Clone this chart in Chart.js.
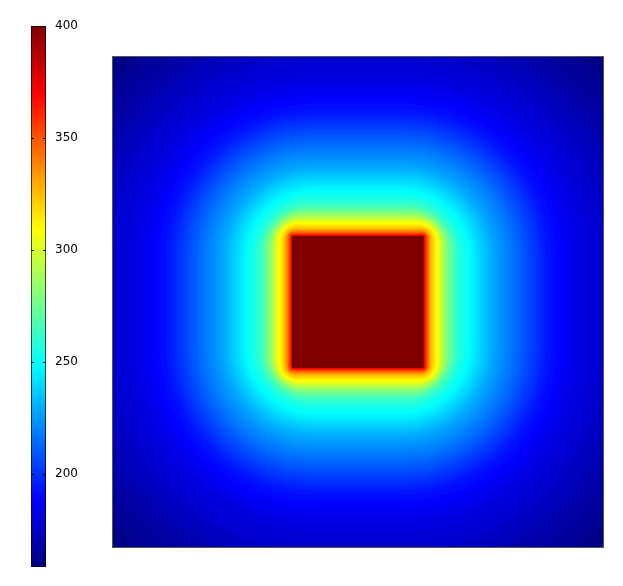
<!DOCTYPE html>
<html><head><meta charset="utf-8">
<script src="https://cdn.jsdelivr.net/npm/chart.js@4/dist/chart.umd.min.js"></script>
<style>
html,body{margin:0;padding:0;background:#fff;}
#wrap{position:relative;width:623px;height:586px;}
#main,#bar{position:absolute;left:0;top:0;}
</style></head><body>
<div id="wrap">
<canvas id="main" width="623" height="586"></canvas>
<canvas id="bar" width="110" height="586"></canvas>
</div>
<script>
// Domain (cm) and heated block
const domainX = [0, 49];
const domainY = [0, 49];
const blockX = [18, 31];
const blockY = [18, 31];
const blockTemperature = 400;
const backgroundTemperature = 160;

// Filled contour levels (temperature), distance of each level set from the block edge (cm),
// and corner radius of each level set (cm)
const contourLevels = [162,164,166,168,170,172,174,176,178,180,182,184,186,188,190,192,194,196,198,200,202,204,206,208,210,212,214,216,218,220,222,224,226,228,230,232,234,236,238,240,242,244,246,248,250,252,254,256,258,260,262,264,268,272,276,280,284,288,292,296,300,304,308,312,316,320,326,332,338,344,350,356,362,368,376,386,396];
const contourOffsets = [24.76,23.67,22.59,21.5,20.7,19.9,19.1,18.3,17.44,16.52,15.6,15.04,14.47,13.91,13.35,12.78,12.35,12.04,11.74,11.43,11.13,10.82,10.52,10.21,9.91,9.6,9.28,8.96,8.65,8.33,8.01,7.69,7.38,7.06,6.78,6.55,6.32,6.09,5.86,5.63,5.4,5.17,4.94,4.71,4.49,4.26,4.03,3.8,3.63,3.45,3.28,3.1,2.93,2.75,2.58,2.4,2.25,2.11,1.97,1.83,1.7,1.57,1.43,1.28,1.13,0.98,0.82,0.71,0.59,0.49,0.41,0.33,0.25,0.18,0.12,0.07,0.02];
const contourCornerRadii = [26.76,25.67,24.59,23.5,22.7,21.9,21.1,20.3,19.44,18.52,17.6,17.04,16.47,15.91,15.35,14.78,14.35,14.04,13.74,13.43,13.13,12.82,12.52,12.21,11.91,11.6,11.28,10.96,10.65,10.33,10.01,9.69,9.38,9.06,8.78,8.55,8.32,8.09,7.86,7.63,7.4,7.17,6.94,6.71,6.49,6.26,6.03,5.7,5.43,5.15,4.88,4.6,4.33,4.05,3.78,3.5,3.25,3.01,2.77,2.53,2.3,2.12,1.93,1.68,1.43,1.23,1.02,0.86,0.7,0.58,0.48,0.38,0.28,0.2,0.13,0.07,0.02];

// Colour bar
const colorMin = 158.5;
const colorMax = 400;
const colorbarTicks = [200, 250, 300, 350, 400];

function clamp01(v){ return Math.max(0, Math.min(1, v)); }
function jet(val){
  const t = clamp01((val - colorMin) / (colorMax - colorMin));
  const r = clamp01(1.5 - Math.abs(4*t - 3));
  const g = clamp01(1.5 - Math.abs(4*t - 2));
  const b = clamp01(1.5 - Math.abs(4*t - 1));
  return `rgb(${Math.round(r*255)},${Math.round(g*255)},${Math.round(b*255)})`;
}

const contourPlugin = {
  id: 'contour',
  beforeDatasetsDraw(chart){
    const {ctx, chartArea: a, scales: {x, y}} = chart;
    ctx.save();
    ctx.beginPath(); ctx.rect(a.left, a.top, a.width, a.height); ctx.clip();
    ctx.fillStyle = jet(backgroundTemperature);
    ctx.fillRect(a.left, a.top, a.width, a.height);
    const n = Math.min(contourLevels.length, contourOffsets.length, contourCornerRadii.length);
    for (let i = 0; i < n; i++){
      const r = contourOffsets[i];
      const hi = i + 1 < n ? contourLevels[i+1] : blockTemperature;
      const px0 = x.getPixelForValue(blockX[0] - r);
      const px1 = x.getPixelForValue(blockX[1] + r);
      const py0 = y.getPixelForValue(blockY[1] + r);
      const py1 = y.getPixelForValue(blockY[0] - r);
      const rad = Math.max(0, x.getPixelForValue(contourCornerRadii[i]) - x.getPixelForValue(0));
      ctx.fillStyle = jet((contourLevels[i] + hi) / 2);
      ctx.beginPath();
      ctx.roundRect(px0, py0, px1 - px0, py1 - py0, Math.min(rad, (px1 - px0) / 2));
      ctx.fill();
    }
    const bx0 = x.getPixelForValue(blockX[0]), bx1 = x.getPixelForValue(blockX[1]);
    const by0 = y.getPixelForValue(blockY[1]), by1 = y.getPixelForValue(blockY[0]);
    ctx.fillStyle = jet(blockTemperature);
    ctx.fillRect(bx0, by0, bx1 - bx0, by1 - by0);
    ctx.restore();
  },
  afterDraw(chart){
    const {ctx, chartArea: a} = chart;
    ctx.save();
    ctx.strokeStyle = '#555';
    ctx.lineWidth = 1;
    ctx.strokeRect(a.left - 0.5, a.top - 0.5, a.width + 1, a.height + 1);
    ctx.restore();
  }
};

new Chart(document.getElementById('main'), {
  type: 'scatter',
  data: { datasets: [{
    data: [
      {x: blockX[0], y: blockY[0]}, {x: blockX[1], y: blockY[0]},
      {x: blockX[1], y: blockY[1]}, {x: blockX[0], y: blockY[1]},
      {x: blockX[0], y: blockY[0]}
    ],
    showLine: true, borderColor: 'rgb(95,0,0)', borderWidth: 1,
    pointRadius: 0, fill: false
  }]},
  options: {
    responsive: false, animation: false, devicePixelRatio: 1,
    layout: { padding: { left: 113, top: 57, right: 20, bottom: 39 } },
    scales: {
      x: { type: 'linear', min: domainX[0], max: domainX[1], display: false },
      y: { type: 'linear', min: domainY[0], max: domainY[1], display: false }
    },
    plugins: { legend: { display: false }, tooltip: { enabled: false } }
  },
  plugins: [contourPlugin]
});

const jetStops = [[0,'rgb(0,0,128)'],[0.125,'rgb(0,0,255)'],[0.375,'rgb(0,255,255)'],[0.625,'rgb(255,255,0)'],[0.875,'rgb(255,0,0)'],[1,'rgb(128,0,0)']];

const barTicksPlugin = {
  id: 'barTicks',
  afterDatasetsDraw(chart){
    const {ctx, chartArea: a, scales: {y}} = chart;
    ctx.save();
    ctx.strokeStyle = '#000';
    ctx.lineWidth = 1;
    ctx.beginPath();
    colorbarTicks.forEach(v => {
      const py = Math.round(y.getPixelForValue(v)) + 0.5;
      ctx.moveTo(a.left, py); ctx.lineTo(a.left + 3, py);
      ctx.moveTo(a.right - 3, py); ctx.lineTo(a.right, py);
    });
    ctx.stroke();
    ctx.restore();
  }
};

new Chart(document.getElementById('bar'), {
  type: 'bar',
  data: { labels: [''], datasets: [{
    data: [[colorMin, colorMax]],
    backgroundColor: (c) => {
      const ch = c.chart; const a = ch.chartArea;
      if (!a) return 'rgba(0,0,0,0)';
      const ys = ch.scales.y;
      const g = ch.ctx.createLinearGradient(0, ys.getPixelForValue(colorMin), 0, ys.getPixelForValue(colorMax));
      jetStops.forEach(s => g.addColorStop(s[0], s[1]));
      return g;
    },
    borderColor: '#000', borderWidth: 1, borderSkipped: false,
    barPercentage: 1, categoryPercentage: 1
  }]},
  options: {
    responsive: false, animation: false, devicePixelRatio: 1,
    layout: { padding: { left: 31, top: 26, right: 0, bottom: 19 } },
    scales: {
      x: { display: false },
      y: {
        position: 'right', min: colorMin, max: colorMax,
        afterBuildTicks: s => { s.ticks = colorbarTicks.map(v => ({ value: v })); },
        afterFit: s => { s.width = 64; },
        grid: { display: false, drawTicks: false },
        border: { display: false },
        ticks: { padding: 9, color: '#000', font: { family: 'DejaVu Sans', size: 12 } }
      }
    },
    plugins: { legend: { display: false }, tooltip: { enabled: false } }
  },
  plugins: [barTicksPlugin]
});
</script>
</body></html>
